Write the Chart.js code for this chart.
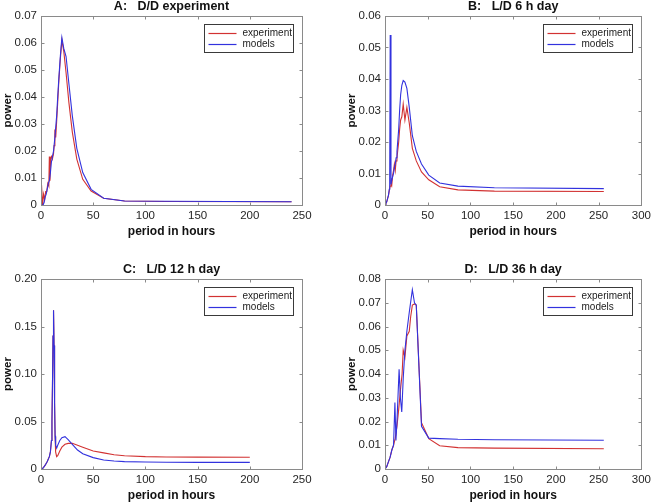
<!DOCTYPE html>
<html>
<head>
<meta charset="utf-8">
<script src="https://cdn.jsdelivr.net/npm/chart.js@4.4.1/dist/chart.umd.min.js"></script>
<style>
  body { margin: 0; background: #fff; width: 655px; height: 503px; position: relative; overflow: hidden; }
  canvas { position: absolute; }
</style>
</head>
<body>
<canvas id="chartA" width="327" height="239" style="left:0px;top:0px"></canvas>
<canvas id="chartB" width="312" height="239" style="left:343px;top:0px"></canvas>
<canvas id="chartC" width="327" height="240" style="left:0px;top:263px"></canvas>
<canvas id="chartD" width="312" height="240" style="left:343px;top:263px"></canvas>
<script>
// A: D/D experiment
const aExpX = [0, 0.5, 1.5, 2.5, 3.5, 4.5, 5.5, 6.5, 7.5, 8, 8.6, 9.2, 10, 10.9, 12, 12.6, 13.3, 14.1, 15, 16, 17.1, 18.5, 20, 21.8, 24, 26.7, 30, 34.3, 40, 48, 60, 80, 120, 240];
const aExp = [0.002, 0.0075, 0, 0.004, 0.002, 0.005, 0.005, 0.008, 0.007, 0.018, 0.009, 0.017, 0.018, 0.017, 0.019, 0.022, 0.028, 0.025, 0.031, 0.038, 0.046, 0.054, 0.061, 0.057, 0.049, 0.038, 0.027, 0.017, 0.0095, 0.0052, 0.0025, 0.0015, 0.0013, 0.0012];
const aModX = [0, 2, 3, 4, 5, 6, 7, 8, 9, 10, 12, 13.3, 15, 16, 17.1, 18.5, 20, 21.8, 24, 26.7, 30, 34.3, 40, 48, 60, 80, 120, 240];
const aMod = [0, 0, 0.001, 0.003, 0.004, 0.006, 0.008, 0.009, 0.012, 0.016, 0.02, 0.025, 0.033, 0.04, 0.047, 0.055, 0.062, 0.058, 0.055, 0.045, 0.033, 0.021, 0.012, 0.0058, 0.0025, 0.0015, 0.0014, 0.0012];

// B: L/D 6 h day
const bExpX = [0, 1, 2, 3, 4, 5, 6, 7, 8, 9, 10, 11, 12, 13, 14, 16, 17.1, 18.3, 19.7, 21.3, 23.3, 25.6, 28.4, 32, 36.6, 42.7, 51.2, 64, 85.3, 128, 256];
const bExp = [0, 0.0005, 0.001, 0.002, 0.003, 0.0045, 0.006, 0.008, 0.0065, 0.0095, 0.011, 0.013, 0.011, 0.014, 0.015, 0.02, 0.024, 0.027, 0.028, 0.032, 0.027, 0.031, 0.026, 0.018, 0.014, 0.0105, 0.008, 0.0058, 0.0048, 0.0044, 0.0043];
const bModX = [0, 1, 2, 3, 4, 5, 5.5, 6.1, 7, 8, 9, 10, 11, 12, 13, 14, 16, 17.1, 18.3, 19.7, 21.3, 23.3, 25.6, 28.4, 32, 36.6, 42.7, 51.2, 64, 85.3, 128, 256];
const bMod = [0, 0.0005, 0.001, 0.002, 0.003, 0.005, 0.008, 0.054, 0.0065, 0.008, 0.009, 0.01, 0.012, 0.013, 0.015, 0.017, 0.024, 0.03, 0.035, 0.038, 0.0395, 0.039, 0.037, 0.031, 0.022, 0.017, 0.013, 0.0095, 0.007, 0.006, 0.0055, 0.0052];

// C: L/D 12 h day
const cExpX = [0, 2, 4, 6, 8, 9, 10, 10.5, 11, 11.5, 12, 12.5, 13, 13.5, 14, 15, 16, 18, 20, 23, 26, 30, 35, 40, 50, 60, 70, 80, 100, 120, 150, 200];
const cExp = [0, 0.001, 0.004, 0.008, 0.013, 0.018, 0.03, 0.05, 0.09, 0.14, 0.167, 0.13, 0.07, 0.034, 0.018, 0.013, 0.014, 0.019, 0.023, 0.026, 0.027, 0.027, 0.025, 0.023, 0.019, 0.017, 0.015, 0.014, 0.013, 0.0127, 0.0125, 0.0123];
const cModX = [0, 2, 4, 6, 8, 9, 10, 10.5, 11, 11.5, 12, 12.5, 13, 13.5, 14, 15, 16, 18, 20, 23, 26, 30, 35, 40, 50, 60, 70, 80, 100, 120, 150, 200];
const cMod = [0, 0.001, 0.004, 0.008, 0.013, 0.018, 0.03, 0.05, 0.09, 0.14, 0.167, 0.13, 0.07, 0.035, 0.025, 0.022, 0.025, 0.03, 0.033, 0.034, 0.031, 0.026, 0.02, 0.016, 0.012, 0.0095, 0.0085, 0.0078, 0.0073, 0.0071, 0.007, 0.007];

// D: L/D 36 h day
const dExpX = [0, 2, 4, 6, 8, 10, 12, 14, 16, 18, 20, 21.3, 23.3, 25.6, 28.4, 30, 32, 34.5, 36.6, 42.7, 51.2, 64, 85.3, 128, 256];
const dExp = [0, 0.001, 0.003, 0.005, 0.008, 0.01, 0.013, 0.018, 0.025, 0.033, 0.04, 0.05, 0.047, 0.056, 0.058, 0.064, 0.069, 0.0695, 0.069, 0.0195, 0.0128, 0.0098, 0.009, 0.0088, 0.0085];
const dModX = [0, 2, 4, 6, 8, 10, 11.6, 12.8, 14, 16.5, 18, 19.6, 21.3, 23.3, 25.6, 28.4, 32, 34.5, 36.6, 42.7, 51.2, 64, 85.3, 128, 256];
const dMod = [0, 0.001, 0.003, 0.005, 0.008, 0.01, 0.028, 0.012, 0.02, 0.042, 0.03, 0.024, 0.038, 0.05, 0.058, 0.066, 0.0755, 0.07, 0.069, 0.018, 0.013, 0.0128, 0.0125, 0.0123, 0.0121];

const seriesNames = ['experiment', 'models'];
const RED = 'rgb(210, 50, 50)';
const BLUE = 'rgb(50, 50, 222)';
const seriesColors = [RED, BLUE];
const FONT = '"Liberation Sans", Arial, Helvetica, sans-serif';

function pts(xs, ys) {
    return xs.map((x, i) => ({x: x, y: ys[i]}));
}

// MATLAB style box with inward ticks
const framePlugin = {
    id: 'frame',
    afterDatasetsDraw(chart) {
        const ctx = chart.ctx;
        const a = chart.chartArea;
        const L = Math.round(a.left) + 0.5, R = Math.round(a.right) + 0.5;
        const T = Math.round(a.top) + 0.5, B = Math.round(a.bottom) + 0.5;
        ctx.save();
        ctx.strokeStyle = '#8a8a8a';
        ctx.lineWidth = 1;
        ctx.strokeRect(L, T, R - L, B - T);
        ctx.beginPath();
        chart.scales.x.ticks.forEach(t => {
            const px = Math.round(chart.scales.x.getPixelForValue(t.value)) + 0.5;
            ctx.moveTo(px, B); ctx.lineTo(px, B - 3);
            ctx.moveTo(px, T); ctx.lineTo(px, T + 3);
        });
        chart.scales.y.ticks.forEach(t => {
            const py = Math.round(chart.scales.y.getPixelForValue(t.value)) + 0.5;
            ctx.moveTo(L, py); ctx.lineTo(L + 3, py);
            ctx.moveTo(R, py); ctx.lineTo(R - 3, py);
        });
        ctx.stroke();
        ctx.restore();
    }
};

// title centred over the plot box, as MATLAB does
const panelTitle = {
    id: 'panelTitle',
    afterDraw(chart, args, opts) {
        const ctx = chart.ctx;
        const a = chart.chartArea;
        ctx.save();
        ctx.font = 'bold 12.5px ' + FONT;
        ctx.fillStyle = '#111';
        ctx.textAlign = 'center';
        ctx.textBaseline = 'middle';
        ctx.fillText(opts.text, (a.left + a.right) / 2, a.top - 9.5);
        ctx.restore();
    }
};

// boxed legend in the upper right corner
const boxLegend = {
    id: 'boxLegend',
    afterDraw(chart) {
        const ctx = chart.ctx;
        const a = chart.chartArea;
        const w = 89, h = 28;
        const x0 = Math.round(a.right) - 9 - w + 0.5;
        const y0 = Math.round(a.top) + 8 + 0.5;
        ctx.save();
        ctx.fillStyle = '#fff';
        ctx.fillRect(x0, y0, w, h);
        ctx.strokeStyle = '#3a3a3a';
        ctx.lineWidth = 1;
        ctx.strokeRect(x0, y0, w, h);
        ctx.font = '10px ' + FONT;
        ctx.textBaseline = 'middle';
        chart.data.datasets.forEach((ds, i) => {
            const yy = Math.round(y0 + 8 + i * 11.5) + 0.5;
            ctx.strokeStyle = seriesColors[i];
            ctx.lineWidth = 1.2;
            ctx.beginPath();
            ctx.moveTo(x0 + 4, yy);
            ctx.lineTo(x0 + 32, yy);
            ctx.stroke();
            ctx.fillStyle = '#222';
            ctx.fillText(ds.label, x0 + 38, yy);
        });
        ctx.restore();
    }
};

function makeChart(id, title, expX, exp, modX, mod, xMax, yMax, yStep, yWidth, padRight, yTitlePad) {
    return new Chart(document.getElementById(id), {
        type: 'line',
        data: {
            datasets: [{
                label: seriesNames[0],
                data: pts(expX, exp),
                borderColor: seriesColors[0],
                borderWidth: 1.1,
                pointRadius: 0,
                order: 1
            }, {
                label: seriesNames[1],
                data: pts(modX, mod),
                borderColor: seriesColors[1],
                borderWidth: 1.1,
                pointRadius: 0,
                order: 0
            }]
        },
        options: {
            responsive: false,
            animation: false,
            devicePixelRatio: 1,
            layout: {padding: {left: 0, right: padRight, top: 16, bottom: 0}},
            plugins: {
                legend: {display: false},
                tooltip: {enabled: false},
                title: {display: false},
                panelTitle: {text: title}
            },
            scales: {
                x: {
                    type: 'linear',
                    min: 0,
                    max: xMax,
                    grid: {display: false, drawTicks: false, tickLength: 0},
                    border: {display: false},
                    ticks: {stepSize: 50, color: '#262626', padding: 4, maxRotation: 0,
                            font: {family: FONT, size: 11.5}},
                    title: {display: true, text: 'period in hours', color: '#111',
                            font: {family: FONT, size: 12, weight: 'bold'}, padding: {top: 0, bottom: 0}},
                    afterFit(s) { s.height = 34; }
                },
                y: {
                    min: 0,
                    max: yMax,
                    grid: {display: false, drawTicks: false, tickLength: 0},
                    border: {display: false},
                    ticks: {stepSize: yStep, color: '#262626', padding: 4,
                            font: {family: FONT, size: 11.5}},
                    title: {display: true, text: 'power', color: '#111',
                            font: {family: FONT, size: 11.5, weight: 'bold'}, padding: {top: yTitlePad, bottom: 0}},
                    afterFit(s) { s.width = yWidth; }
                }
            }
        },
        plugins: [framePlugin, panelTitle, boxLegend]
    });
}

makeChart('chartA', 'A:   D/D experiment', aExpX, aExp, aModX, aMod, 250, 0.07, 0.01, 41, 25, 1);
makeChart('chartB', 'B:   L/D 6 h day', bExpX, bExp, bModX, bMod, 300, 0.06, 0.01, 42, 9, 2);
makeChart('chartC', 'C:   L/D 12 h day', cExpX, cExp, cModX, cMod, 250, 0.2, 0.05, 41, 25, 1);
makeChart('chartD', 'D:   L/D 36 h day', dExpX, dExp, dModX, dMod, 300, 0.08, 0.01, 42, 9, 2);
</script>
</body>
</html>
